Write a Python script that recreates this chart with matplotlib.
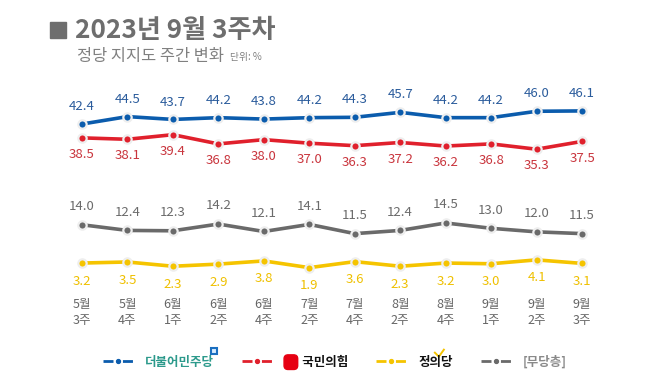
import matplotlib
matplotlib.use("Agg")
import matplotlib.pyplot as plt
from matplotlib.lines import Line2D
from matplotlib.patches import Rectangle, FancyBboxPatch

plt.rcParams['font.family'] = ['Noto Sans CJK KR', 'DejaVu Sans']

weeks = ["5월\n3주", "5월\n4주", "6월\n1주", "6월\n2주", "6월\n4주", "7월\n2주",
         "7월\n4주", "8월\n2주", "8월\n4주", "9월\n1주", "9월\n2주", "9월\n3주"]
democratic = [42.4, 44.5, 43.7, 44.2, 43.8, 44.2, 44.3, 45.7, 44.2, 44.2, 46.0, 46.1]
ppp = [38.5, 38.1, 39.4, 36.8, 38.0, 37.0, 36.3, 37.2, 36.2, 36.8, 35.3, 37.5]
independent = [14.0, 12.4, 12.3, 14.2, 12.1, 14.1, 11.5, 12.4, 14.5, 13.0, 12.0, 11.5]
justice = [3.2, 3.5, 2.3, 2.9, 3.8, 1.9, 3.6, 2.3, 3.2, 3.0, 4.1, 3.1]

series = [
    ("더불어민주당", democratic, "#0b5cad", "#2b5c9c", 12.5, "#2d9a8c"),
    ("국민의힘", ppp, "#e0202c", "#c9353d", -12, "#111111"),
    ("[무당층]", independent, "#6a6a6a", "#6b6b6b", 13, "#8a8a8a"),
    ("정의당", justice, "#f5c400", "#efc000", -13, "#111111"),
]

W, H = 658, 380
fig = plt.figure(figsize=(6.58, 3.80), dpi=100)
fig.patch.set_facecolor("white")
ax = fig.add_axes([0.0901, 0.2779, 0.829, 0.4666])
x = list(range(len(weeks)))

for name, vals, lc, tc, off, _ in series:
    ax.plot(x, vals, color=lc, lw=2.6, solid_capstyle="round", zorder=2)
    ax.plot(x, vals, ls="none", marker="o", ms=6, mfc=lc, mec="#eeeeee",
            mew=1.6, zorder=3)
    for xi, v in zip(x, vals):
        ax.annotate(f"{v:.1f}", (xi, v), xytext=(0, off), textcoords="offset points",
                    ha="center", va="center", fontsize=9.5, color=tc)

ax.set_xlim(-0.5, len(weeks) - 0.5)
ax.set_ylim(0, 50)
ax.set_xticks(x)
ax.set_xticklabels(weeks, fontsize=9, color="#666666", linespacing=1.3)
ax.tick_params(axis="x", length=0, pad=17)
ax.set_yticks([])
for s in ax.spines.values():
    s.set_visible(False)

# title
fig.patches.append(Rectangle((50 / W, 1 - 38 / H), 16 / W, 16 / H,
                             transform=fig.transFigure, color="#6e6e6e"))
fig.text(75 / W, 1 - 30 / H, "2023년 9월 3주차", fontsize=18.8, fontweight="bold",
         color="#6e6e6e", va="center", ha="left")
fig.text(77 / W, 1 - 56 / H, "정당 지지도 주간 변화", fontsize=11.8, color="#808080",
         va="center", ha="left")
fig.text(230 / W, 1 - 57 / H, "단위: %", fontsize=7, color="#808080",
         va="center", ha="left")

# legend
handles = []
labels = []
order = [0, 1, 3, 2]
for i in order:
    name, vals, lc, tc, off, legc = series[i]
    handles.append(Line2D([], [], color=lc, lw=2, ls=(0, (3.6, 3.4)),
                          marker="o", ms=2.8, mfc=lc, mec=lc))
    labels.append(("\u3000  " + name) if i == 1 else name)
leg = fig.legend(handles, labels, loc="center", bbox_to_anchor=(0.5 + 6 / W, 18 / H),
                 ncol=4, frameon=False, handlelength=2.4,
                 columnspacing=2.2, handletextpad=1.0, numpoints=1,
                 prop={"weight": "bold", "size": 9})
texts = leg.get_texts()
for t, i in zip(texts, order):
    t.set_color(series[i][5])

# small party marks next to legend labels
fig.canvas.draw()
r = fig.canvas.get_renderer()
bb_dem = texts[0].get_window_extent(r)
bb_ppp = texts[1].get_window_extent(r)
bb_jus = texts[2].get_window_extent(r)
cy = (bb_ppp.y0 + bb_ppp.y1) / 2
# red logo
fig.patches.append(FancyBboxPatch(((bb_ppp.x0 + 1) / W, (cy - 6) / H), 11 / W, 12 / H,
                                  boxstyle="round,pad=0.002,rounding_size=0.006",
                                  transform=fig.transFigure, color="#e60012",
                                  mutation_aspect=W / H))
# blue square mark above democratic label end
fig.patches.append(Rectangle(((bb_dem.x1 - 3) / W, (bb_dem.y1 + 2) / H), 6 / W, 6 / H,
                             transform=fig.transFigure, facecolor="#d8ecff",
                             edgecolor="#1a6fc0", lw=1.5))
# yellow check above justice label
cx = (bb_jus.x0 + bb_jus.x1) / 2 + 3
ty = bb_jus.y1 - 1
fig.lines.append(Line2D([(cx - 4) / W, cx / W, (cx + 5) / W],
                        [(ty + 4) / H, ty / H, (ty + 7) / H],
                        transform=fig.transFigure, color="#f5c400", lw=1.4))

fig.savefig("out.png", dpi=100, facecolor="white")
